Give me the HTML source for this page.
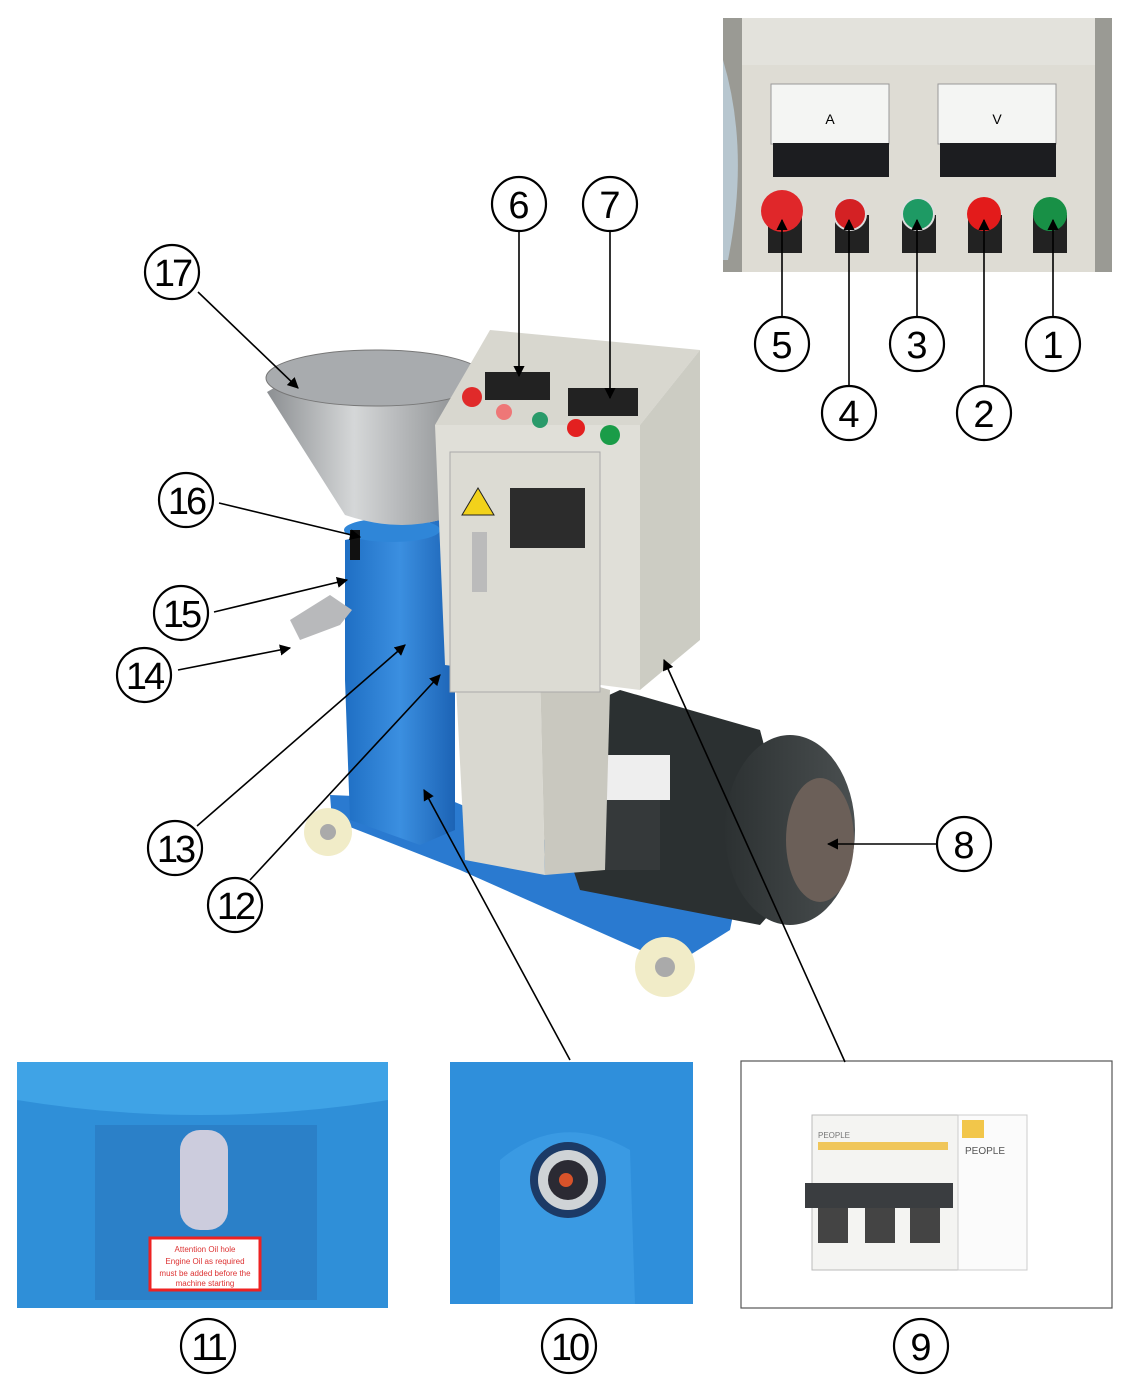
<!DOCTYPE html>
<html><head><meta charset="utf-8"><style>
html,body{margin:0;padding:0;background:#fff;}
svg{display:block}
text{font-family:"Liberation Sans",sans-serif;}
</style></head><body>
<svg width="1134" height="1396" viewBox="0 0 1134 1396" xmlns="http://www.w3.org/2000/svg">
<defs>
<linearGradient id="hop" x1="0" x2="1"><stop offset="0" stop-color="#8c8f92"/><stop offset="0.4" stop-color="#d5d7d8"/><stop offset="1" stop-color="#7e8184"/></linearGradient>
<linearGradient id="blu" x1="0" x2="1"><stop offset="0" stop-color="#1f6fc4"/><stop offset="0.5" stop-color="#3b8fe0"/><stop offset="1" stop-color="#1c63b5"/></linearGradient>
<linearGradient id="mot" x1="0" x2="1"><stop offset="0" stop-color="#2c3132"/><stop offset="1" stop-color="#4a4f50"/></linearGradient>
<marker id="ar" viewBox="0 0 10 10" refX="9" refY="5" markerWidth="7" markerHeight="7" orient="auto"><path d="M0,0 L10,5 L0,10 z" fill="#000"/></marker>
</defs>

<!-- top-right inset -->
<rect x="723" y="18" width="389" height="254" fill="#9a9a94"/>
<path d="M742 18 L1095 18 L1095 272 L742 272 Z" fill="#e3e2dc"/>
<rect x="742" y="65" width="353" height="207" fill="#dedcd4"/>
<path d="M723 60 Q750 150 728 260 L723 260 Z" fill="#b7c6cf"/>
<rect x="771" y="84" width="118" height="60" fill="#f4f5f3" stroke="#999"/>
<rect x="773" y="143" width="116" height="34" fill="#1c1d20"/>
<text x="830" y="124" font-size="14" text-anchor="middle">A</text>
<rect x="938" y="84" width="118" height="60" fill="#f4f5f3" stroke="#999"/>
<rect x="940" y="143" width="116" height="34" fill="#1c1d20"/>
<text x="997" y="124" font-size="14" text-anchor="middle">V</text>
<g fill="#222">
<rect x="768" y="215" width="34" height="38"/><rect x="835" y="215" width="34" height="38"/><rect x="902" y="215" width="34" height="38"/><rect x="968" y="215" width="34" height="38"/><rect x="1033" y="215" width="34" height="38"/>
</g>
<circle cx="782" cy="211" r="21" fill="#e0272a"/>
<circle cx="850" cy="214" r="16" fill="#d42124" stroke="#ddd" stroke-width="2"/>
<circle cx="918" cy="214" r="16" fill="#1e9a64" stroke="#ddd" stroke-width="2"/>
<circle cx="984" cy="214" r="17" fill="#e31b1b"/>
<circle cx="1050" cy="214" r="17" fill="#189046"/>

<!-- main machine -->
<!-- base -->
<path d="M330 795 L450 800 L700 905 L735 905 L730 930 L690 955 L640 950 L460 870 L332 820 Z" fill="#2a7ad0"/>
<!-- blue body -->
<path d="M345 540 L440 520 L445 650 L455 680 L455 830 L420 845 L350 820 L345 680 Z" fill="url(#blu)"/>
<ellipse cx="392" cy="530" rx="48" ry="12" fill="#2f86d8"/>
<path d="M290 620 L330 595 L352 610 L340 625 L300 640 Z" fill="#b8b9bb"/>
<rect x="350" y="530" width="10" height="30" fill="#111"/>
<!-- hopper -->
<path d="M267 392 Q370 330 485 372 L440 520 Q395 532 345 515 Z" fill="url(#hop)"/>
<ellipse cx="376" cy="378" rx="110" ry="28" fill="#a8abae" stroke="#777"/>
<!-- wheels -->
<circle cx="328" cy="832" r="24" fill="#f1ecc8"/><circle cx="328" cy="832" r="8" fill="#aaa"/>
<circle cx="665" cy="967" r="30" fill="#f1ecc8"/><circle cx="665" cy="967" r="10" fill="#aaa"/>
<!-- motor -->
<path d="M555 720 L620 690 L760 730 L800 880 L760 925 L580 890 L550 800 Z" fill="#2b3031"/>
<ellipse cx="790" cy="830" rx="65" ry="95" fill="url(#mot)"/>
<ellipse cx="820" cy="840" rx="34" ry="62" fill="#6b5f58"/>
<rect x="600" y="755" width="70" height="45" fill="#eeeeee"/>
<rect x="575" y="800" width="85" height="70" fill="#35393a"/>
<!-- cabinet -->
<path d="M455 665 L540 670 L545 875 L465 860 Z" fill="#d9d8d0"/>
<path d="M540 670 L610 690 L605 870 L545 875 Z" fill="#c9c8bf"/>
<path d="M435 425 L490 330 L700 350 L640 425 Z" fill="#d8d7cf"/>
<path d="M435 425 L640 425 L640 690 L445 665 Z" fill="#e0dfd8"/>
<path d="M640 425 L700 350 L700 640 L640 690 Z" fill="#ccccc3"/>
<rect x="450" y="452" width="150" height="240" fill="#dcdbd3" stroke="#aaa"/>
<polygon points="478,488 462,515 494,515" fill="#f2d21b" stroke="#222"/>
<rect x="510" y="488" width="75" height="60" fill="#2c2c2c"/>
<rect x="472" y="532" width="15" height="60" fill="#bbb"/>
<rect x="485" y="372" width="65" height="28" fill="#222"/>
<rect x="568" y="388" width="70" height="28" fill="#222"/>
<circle cx="472" cy="397" r="10" fill="#e02a2a"/>
<circle cx="504" cy="412" r="8" fill="#e77"/><circle cx="540" cy="420" r="8" fill="#2a9a6a"/><circle cx="576" cy="428" r="9" fill="#e32020"/><circle cx="610" cy="435" r="10" fill="#1a9c48"/>

<!-- bottom insets -->
<rect x="17" y="1062" width="371" height="246" fill="#2f8fd8"/>
<path d="M17 1062 L388 1062 L388 1100 Q200 1130 17 1100 Z" fill="#3fa3e6"/>
<rect x="95" y="1125" width="222" height="175" fill="#2b80c8"/>
<rect x="180" y="1130" width="48" height="100" rx="20" fill="#ccd"/>
<rect x="150" y="1238" width="110" height="52" fill="#fff" stroke="#e22" stroke-width="3"/>
<text x="205" y="1252" font-size="8" fill="#d33" text-anchor="middle" font-family="Liberation Serif">Attention Oil hole</text>
<text x="205" y="1264" font-size="8" fill="#d33" text-anchor="middle" font-family="Liberation Serif">Engine Oil as required</text>
<text x="205" y="1276" font-size="8" fill="#d33" text-anchor="middle" font-family="Liberation Serif">must be added before the</text>
<text x="205" y="1286" font-size="8" fill="#d33" text-anchor="middle" font-family="Liberation Serif">machine starting</text>
<rect x="450" y="1062" width="243" height="242" fill="#2f8fdb"/>
<path d="M500 1304 L500 1160 Q560 1110 630 1150 L635 1304 Z" fill="#3a9ae3"/>
<circle cx="568" cy="1180" r="38" fill="#1c3a66"/>
<circle cx="568" cy="1180" r="30" fill="#cfd3d6"/>
<circle cx="568" cy="1180" r="20" fill="#2b2a33"/>
<circle cx="566" cy="1180" r="7" fill="#d8532a"/>
<rect x="741" y="1061" width="371" height="247" fill="#fff" stroke="#555" stroke-width="1.2"/>
<rect x="812" y="1115" width="215" height="155" fill="#f4f4f2" stroke="#bbb"/>
<rect x="958" y="1115" width="69" height="155" fill="#fbfbfb" stroke="#ccc"/>
<rect x="818" y="1142" width="130" height="8" fill="#f0c65a"/>
<rect x="962" y="1120" width="22" height="18" fill="#f2c64a"/>
<text x="818" y="1138" font-size="8" fill="#777">PEOPLE</text>
<text x="965" y="1154" font-size="10" fill="#555">PEOPLE</text>
<rect x="805" y="1183" width="148" height="25" fill="#3a3d40"/>
<rect x="818" y="1208" width="30" height="35" fill="#444"/><rect x="865" y="1208" width="30" height="35" fill="#444"/><rect x="910" y="1208" width="30" height="35" fill="#444"/>

<!-- connector lines -->
<g stroke="#000" stroke-width="1.6" fill="none">
<line x1="782" y1="317" x2="782" y2="220" marker-end="url(#ar)"/>
<line x1="849" y1="386" x2="849" y2="220" marker-end="url(#ar)"/>
<line x1="917" y1="317" x2="917" y2="220" marker-end="url(#ar)"/>
<line x1="984" y1="386" x2="984" y2="220" marker-end="url(#ar)"/>
<line x1="1053" y1="317" x2="1053" y2="220" marker-end="url(#ar)"/>
<line x1="519" y1="232" x2="519" y2="376" marker-end="url(#ar)"/>
<line x1="610" y1="232" x2="610" y2="398" marker-end="url(#ar)"/>
<line x1="198" y1="292" x2="298" y2="388" marker-end="url(#ar)"/>
<line x1="219" y1="503" x2="360" y2="537" marker-end="url(#ar)"/>
<line x1="214" y1="612" x2="347" y2="580" marker-end="url(#ar)"/>
<line x1="178" y1="670" x2="290" y2="648" marker-end="url(#ar)"/>
<line x1="197" y1="826" x2="405" y2="645" marker-end="url(#ar)"/>
<line x1="250" y1="880" x2="440" y2="675" marker-end="url(#ar)"/>
<line x1="937" y1="844" x2="828" y2="844" marker-end="url(#ar)"/>
<line x1="570" y1="1060" x2="424" y2="790" marker-end="url(#ar)"/>
<line x1="845" y1="1062" x2="664" y2="660" marker-end="url(#ar)"/>
</g>

<!-- circled numbers -->
<g font-size="38" text-anchor="middle" fill="#000">
<g fill="#fff" stroke="#000" stroke-width="2.2">
<circle cx="519" cy="204" r="27"/><circle cx="610" cy="204" r="27"/><circle cx="172" cy="272" r="27"/>
<circle cx="782" cy="344" r="27"/><circle cx="917" cy="344" r="27"/><circle cx="1053" cy="344" r="27"/>
<circle cx="849" cy="413" r="27"/><circle cx="984" cy="413" r="27"/>
<circle cx="186" cy="500" r="27"/><circle cx="181" cy="613" r="27"/><circle cx="144" cy="675" r="27"/>
<circle cx="175" cy="848" r="27"/><circle cx="235" cy="905" r="27"/><circle cx="964" cy="844" r="27"/>
<circle cx="208" cy="1346" r="27"/><circle cx="569" cy="1346" r="27"/><circle cx="921" cy="1346" r="27"/>
</g>
<text x="519" y="218">6</text><text x="610" y="218">7</text><text x="172" y="286" letter-spacing="-3">17</text>
<text x="782" y="358">5</text><text x="917" y="358">3</text><text x="1053" y="358">1</text>
<text x="849" y="427">4</text><text x="984" y="427">2</text>
<text x="186" y="514" letter-spacing="-3">16</text><text x="181" y="627" letter-spacing="-3">15</text><text x="144" y="689" letter-spacing="-3">14</text>
<text x="175" y="862" letter-spacing="-3">13</text><text x="235" y="919" letter-spacing="-3">12</text><text x="964" y="858">8</text>
<text x="208" y="1360" letter-spacing="-3">11</text><text x="569" y="1360" letter-spacing="-3">10</text><text x="921" y="1360">9</text>
</g>
</svg>
</body></html>
